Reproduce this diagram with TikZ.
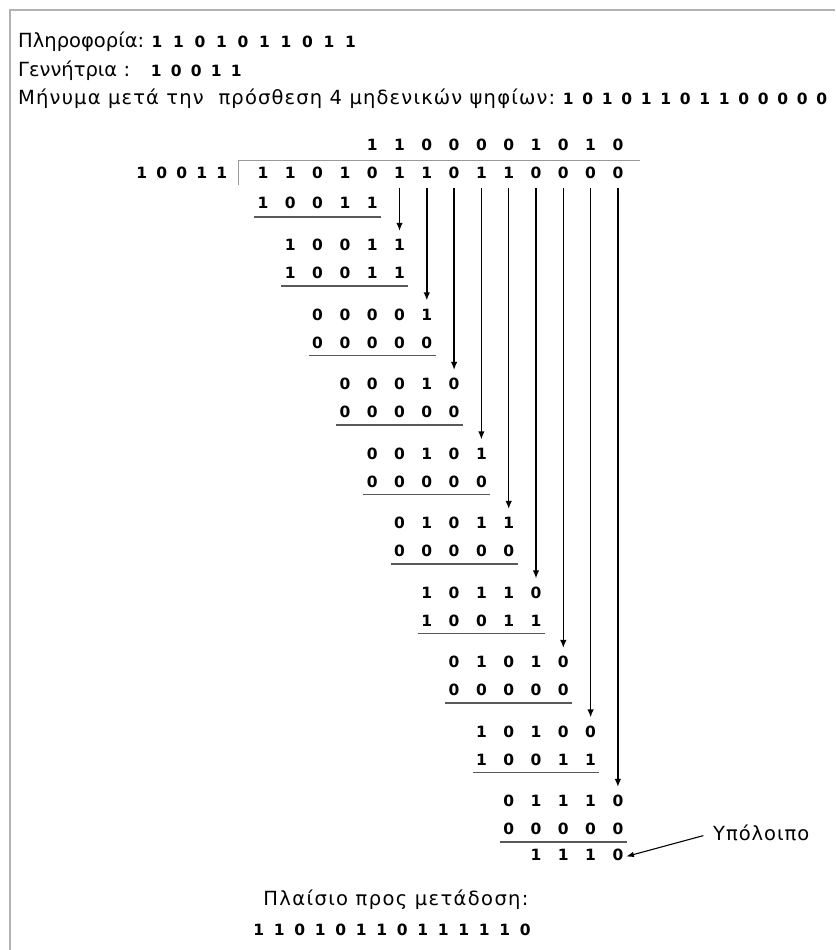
\documentclass[tikz,border=0pt]{standalone}
\usepackage{fontspec}
\setmainfont{DejaVu Sans}
\usetikzlibrary{arrows.meta,positioning}

\newlength\colw
\makeatletter
% one digit per fixed-width cell
\newcommand\digitrow[2]{\setlength\colw{#1}\edef\bitlist{#2}\expandafter\digitcells\expandafter{\bitlist}}
\newcommand\digitcells[1]{\@tfor\bitdg:=#1\do{\makebox[\colw]{\bitdg}}}
\makeatother

\begin{document}
\begin{tikzpicture}[
  x=1pt, y=-1pt,
  lbl/.style={font=\fontsize{19.5}{22}\selectfont\addfontfeature{LetterSpace=#1}, inner sep=0pt, anchor=base west},
  lbl/.default=0,
  bits/.style={font=\bfseries\fontsize{15.5}{18}\selectfont, inner sep=0pt},
  uline/.style={draw=black!65, line width=1.4pt},
  carry/.style={-{Latex[length=8pt,width=6.5pt]}, line width=1.5pt, shorten <=9pt, shorten >=8pt},
  ptr/.style={-{Latex[length=8pt,width=5.5pt]}, line width=1.1pt, shorten <=10pt, shorten >=-6pt},
  edgeline/.style={draw=black!30, line width=1.3pt},
  brk/.style={draw=black!40, line width=0.8pt}
]
\useasboundingbox (0,0) rectangle (835,950);
\draw[edgeline] (10,950) -- (10,10) -- (835,10);

% header lines
\node[lbl] (infolbl) at (18,48) {Πληροφορία:};
\node[bits, anchor=base west] (infobits) at (146,48) {\digitrow{21.5pt}{1101011011}};
\node[lbl] (genlbl) at (18,76) {Γεννήτρια :};
\node[bits, anchor=base west] (genbits) at (146,76) {\digitrow{20pt}{10011}};
\node[lbl=6] (msglbl) at (18,104) {Μήνυμα μετά την\ \ πρόσθεση 4 μηδενικών ψηφίων:};
\node[bits, anchor=base west] (msgbits) at ([xshift=3pt]msglbl.base east) {\digitrow{19.5pt}{10101101100000}};

% division
\node[bits] (quo) at ({263+27.3*8.5},145) {\digitrow{27.3pt}{1100001010}};
\foreach \d [count=\c from 0] in {1,1,0,1,0,1,1,0,1,1,0,0,0,0}
  \node[bits] (dv\c) at ({263+27.3*\c},173) {\d};
\node[bits, anchor=east] (dvs) at (232,173) {\digitrow{20pt}{10011}};
\draw[brk] (238,185) -- (238,160) -- (640,160);

\node[bits] (sub0) at ({263+27.3*2},203) {\digitrow{27.3pt}{10011}};
\draw[uline] ([xshift=5pt,yshift=-8pt]sub0.south west) -- ([xshift=-5pt,yshift=-8pt]sub0.south east);

\foreach \k/\rowa/\rowb in {1/10011/10011, 2/00001/00000, 3/00010/00000,
    4/00101/00000, 5/01011/00000, 6/10110/10011, 7/01010/00000,
    8/10100/10011, 9/01110/00000} {
  \pgfmathsetmacro\ry{245+(\k-1)*69.5}
  \node[bits] (top\k) at ({263+27.3*(\k+2)},\ry) {\digitrow{27.3pt}{\rowa}};
  \node[bits] (bot\k) at ({263+27.3*(\k+2)},\ry+28) {\digitrow{27.3pt}{\rowb}};
  \draw[uline] ([xshift=5pt,yshift=-7pt]bot\k.south west) -- ([xshift=-5pt,yshift=-7pt]bot\k.south east);
}

% brought-down digits
\foreach \c in {5,...,13} {
  \pgfmathtruncatemacro\k{\c-4}
  \draw[carry] (dv\c.south) -- (dv\c.south |- top\k.north);
}

\node[bits] (rem) at ({263+27.3*11.5},855) {\digitrow{27.3pt}{1110}};
\node[lbl=5, anchor=west] (restlbl) at (713,833) {Υπόλοιπο};
\draw[ptr] (restlbl.west) -- (rem.east);

\node[lbl=7, anchor=base] (framelbl) at (396,905) {Πλαίσιο προς μετάδοση:};
\node[bits] (framebits) at (392,930) {\digitrow{20.5pt}{11010110111110}};
\end{tikzpicture}
\end{document}
